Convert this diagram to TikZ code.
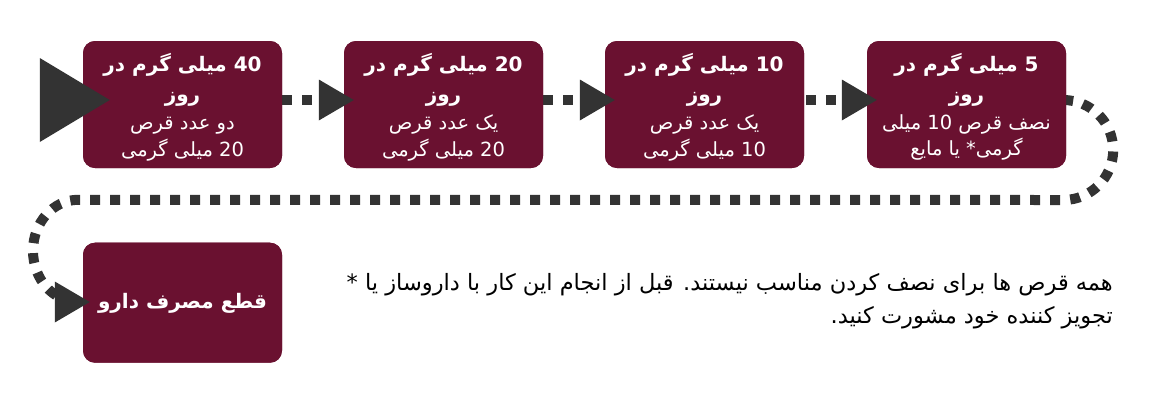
\documentclass[tikz,border=0pt]{standalone}
\usepackage{fontspec}
\newfontfamily\arabicfont[Script=Arabic]{DejaVu Sans}
\TeXXeTstate=1
\usetikzlibrary{calc}
\definecolor{maroon}{HTML}{6A1130}
\definecolor{arrowc}{HTML}{333333}
\begin{document}
\begin{tikzpicture}[x=1pt,y=-1pt,
  box/.style={fill=maroon, rounded corners=12pt, minimum width=199pt, minimum height=127pt, inner sep=0pt},
  ttl/.style={anchor=base, text=white, inner sep=0pt, font=\arabicfont\bfseries\fontsize{20}{24}\selectfont},
  bdy/.style={anchor=base, text=white, inner sep=0pt, font=\arabicfont\fontsize{19.5}{23}\selectfont},
  note/.style={anchor=base east, text=black, inner sep=0pt, font=\arabicfont\fontsize{22.5}{27}\selectfont},
  dots/.style={draw=arrowc, line width=10pt, dash pattern=on 10pt off 10pt},
  head/.style={fill=arrowc, draw=none}
]
\useasboundingbox (0,0) rectangle (1160,400);
% positions of boxes
\coordinate (p1) at (182.5,104.5);
\coordinate (p2) at (443.5,104.5);
\coordinate (p3) at (704.5,104.5);
\coordinate (p4) at (966.5,104.5);
\coordinate (p5) at (182.5,302.7);
% boxes
\node[box] (b1) at (p1) {};
\node[box] (b2) at (p2) {};
\node[box] (b3) at (p3) {};
\node[box] (b4) at (p4) {};
\node[box, minimum height=120pt] (b5) at (p5) {};
% connectors (dots)
\draw[dots] ($(b1.east)+(0,-4.5)$) -- ($(b2.west)+(-25,-4.5)$);
\draw[dots] ($(b2.east)+(0,-4.5)$) -- ($(b3.west)+(-25,-4.5)$);
\draw[dots] ($(b3.east)+(2,-4.5)$) -- ($(b4.west)+(-25,-4.5)$);
\draw[dots] ($(b4.east)+(-3,-4.5)$) arc[start angle=-90, end angle=90, radius=50]
  -- ($(b5.north)+(-104.5,-42.7)$)
  arc[start angle=270, end angle=90, x radius=45, y radius=51];
% boxes again, over the starts of the dotted lines
\node[box] at (p1) {};
\node[box] at (p2) {};
\node[box] at (p3) {};
\node[box] at (p4) {};
\node[box, minimum height=120pt] at (p5) {};
% arrowheads
\fill[head] ($(b1.west)+(-43,-46.5)$) -- ($(b1.west)+(27,-4.5)$) -- ($(b1.west)+(-43,37.5)$) -- cycle;
\fill[head] ($(b2.west)+(10,-4.5)$) -- ++(-35,-20.5) -- ++(0,41) -- cycle;
\fill[head] ($(b3.west)+(10,-4.5)$) -- ++(-35,-20.5) -- ++(0,41) -- cycle;
\fill[head] ($(b4.west)+(10,-4.5)$) -- ++(-35,-20.5) -- ++(0,41) -- cycle;
\fill[head] ($(b5.west)+(7,-0.7)$) -- ++(-35,-20.5) -- ++(0,41) -- cycle;
% texts box 1
\node[ttl] (t1a) at ($(b1.north)+(0,31)$) {\beginR\beginL40\endL{} میلی گرم در\endR};
\node[ttl] (t1b) at ($(b1.north)+(0,61)$) {\beginR روز\endR};
\node[bdy] (t1c) at ($(b1.north)+(0,89)$) {\beginR دو عدد قرص\endR};
\node[bdy] (t1d) at ($(b1.north)+(0,116)$) {\beginR\beginL20\endL{} میلی گرمی\endR};
% box 2
\node[ttl] (t2a) at ($(b2.north)+(0,31)$) {\beginR\beginL20\endL{} میلی گرم در\endR};
\node[ttl] (t2b) at ($(b2.north)+(0,61)$) {\beginR روز\endR};
\node[bdy] (t2c) at ($(b2.north)+(0,89)$) {\beginR یک عدد قرص\endR};
\node[bdy] (t2d) at ($(b2.north)+(0,116)$) {\beginR\beginL20\endL{} میلی گرمی\endR};
% box 3
\node[ttl] (t3a) at ($(b3.north)+(0,31)$) {\beginR\beginL10\endL{} میلی گرم در\endR};
\node[ttl] (t3b) at ($(b3.north)+(0,61)$) {\beginR روز\endR};
\node[bdy] (t3c) at ($(b3.north)+(0,89)$) {\beginR یک عدد قرص\endR};
\node[bdy] (t3d) at ($(b3.north)+(0,116)$) {\beginR\beginL10\endL{} میلی گرمی\endR};
% box 4
\node[ttl] (t4a) at ($(b4.north)+(0,31)$) {\beginR\beginL5\endL{} میلی گرم در\endR};
\node[ttl] (t4b) at ($(b4.north)+(0,61)$) {\beginR روز\endR};
\node[bdy] (t4c) at ($(b4.north)+(0,89)$) {\beginR نصف قرص \beginL10\endL{} میلی\endR};
\node[bdy] (t4d) at ($(b4.north)+(0,115)$) {\beginR گرمی* یا مایع\endR};
% box 5
\node[ttl] (t5) at ($(b5.center)+(0,6)$) {\beginR قطع مصرف دارو\endR};
% note
\node[note] (n1) at (1113,290) {\beginR همه قرص ها برای نصف کردن مناسب نیستند. قبل از انجام این کار با داروساز یا *\endR};
\node[note] (n2) at (1113,323) {\beginR تجویز کننده خود مشورت کنید.\endR};
\end{tikzpicture}
\end{document}
